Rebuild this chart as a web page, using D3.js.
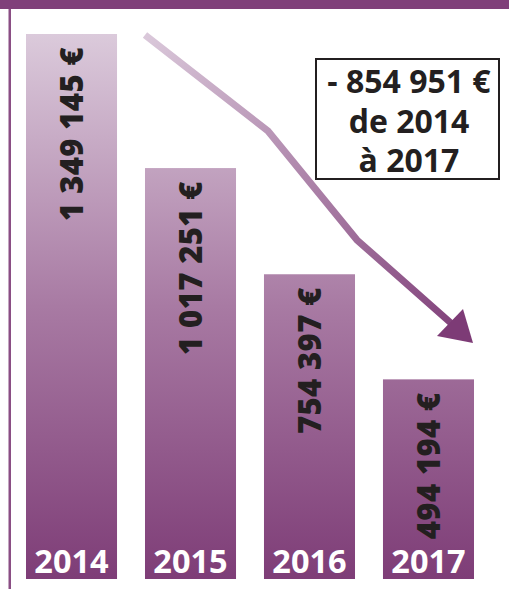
<!DOCTYPE html>
<html>
<head>
<meta charset="utf-8">
<script src="https://cdn.jsdelivr.net/npm/d3@7"></script>
<style>
  body { margin: 0; background: #fff; }
  svg { display: block; font-family: "Open Sans", "Noto Sans", sans-serif; }
</style>
</head>
<body>
<svg id="chart" width="509" height="589"></svg>
<script>
// data
var years = ["2014", "2015", "2016", "2017"];
var values = [1349145, 1017251, 754397, 494194];
var valueLabels = ["1 349 145 €", "1 017 251 €", "754 397 €", "494 194 €"];
var boxLines = ["- 854 951 €", "de 2014", "à 2017"];

var width = 509, height = 589;
var svg = d3.select("#chart");

var x = d3.scaleBand()
    .domain(years)
    .range([26, 474])
    .paddingInner(0.235)
    .paddingOuter(0);

var y = d3.scaleLinear()
    .domain([0, 1349145])
    .range([579, 34]);

var defs = svg.append("defs");

// one vertical gradient for all the bars
var grad = defs.append("linearGradient")
    .attr("id", "barGrad")
    .attr("gradientUnits", "userSpaceOnUse")
    .attr("x1", 0).attr("y1", y(1349145))
    .attr("x2", 0).attr("y2", y(0));
grad.append("stop").attr("offset", 0).attr("stop-color", "#dbcadb");
grad.append("stop").attr("offset", 0.5).attr("stop-color", "#a87aa3");
grad.append("stop").attr("offset", 1).attr("stop-color", "#7e3d77");

var arrowGrad = defs.append("linearGradient")
    .attr("id", "arrowGrad")
    .attr("gradientUnits", "userSpaceOnUse")
    .attr("x1", 145).attr("y1", 35)
    .attr("x2", 473).attr("y2", 343);
arrowGrad.append("stop").attr("offset", 0).attr("stop-color", "#dac8da");
arrowGrad.append("stop").attr("offset", 1).attr("stop-color", "#7d3b76");

// top band and left rule
svg.append("rect")
    .attr("x", 0).attr("y", 0)
    .attr("width", width).attr("height", 9)
    .attr("fill", "#80407a");
svg.append("rect")
    .attr("x", 8.5).attr("y", 9)
    .attr("width", 2.5).attr("height", height - 9)
    .attr("fill", "#8a4e84");

// bars
svg.selectAll(".bar")
    .data(values).enter()
    .append("rect")
    .attr("class", "bar")
    .attr("x", function(d, i) { return x(years[i]); })
    .attr("y", d => y(d))
    .attr("width", x.bandwidth())
    .attr("height", d => y(0) - y(d))
    .attr("fill", "url(#barGrad)");

// values, written upwards
svg.selectAll(".val")
    .data(values).enter()
    .append("text")
    .attr("class", "val")
    .attr("transform", function(d, i) {
      var cx = x(years[i]) + x.bandwidth() / 2 + 11.5;
      return "translate(" + cx + "," + (y(d) + 13) + ") rotate(-90)";
    })
    .attr("text-anchor", "end")
    .attr("font-size", 31)
    .attr("font-weight", 800)
    .attr("letter-spacing", 0.4)
    .attr("fill", "#231f20")
    .text(function(d, i) { return valueLabels[i]; });

// years at the foot of the bars
svg.selectAll(".year")
    .data(years).enter()
    .append("text")
    .attr("class", "year")
    .attr("x", d => x(d) + x.bandwidth() / 2)
    .attr("y", 573)
    .attr("text-anchor", "middle")
    .attr("font-size", 32.5)
    .attr("font-weight", "bold")
    .attr("fill", "#fff")
    .text(d => d);

// falling arrow
var arrowPts = [[145, 35], [268, 131], [357, 240], [452, 324]];
svg.append("path")
    .attr("d", d3.line()(arrowPts))
    .attr("fill", "none")
    .attr("stroke", "url(#arrowGrad)")
    .attr("stroke-width", 7);
svg.append("path")
    .attr("d", d3.line()([[473, 343], [437, 336], [463, 309]]) + "Z")
    .attr("fill", "#7d3b76");

// difference box
svg.append("rect")
    .attr("x", 316).attr("y", 59)
    .attr("width", 183).attr("height", 120)
    .attr("fill", "#fff")
    .attr("stroke", "#231f20")
    .attr("stroke-width", 2);
svg.selectAll(".box")
    .data(boxLines).enter()
    .append("text")
    .attr("x", 409)
    .attr("y", (d, i) => 93 + i * 39.5)
    .attr("text-anchor", "middle")
    .attr("font-size", 32)
    .attr("font-weight", "bold")
    .attr("fill", "#231f20")
    .text(d => d);
</script>
</body>
</html>
